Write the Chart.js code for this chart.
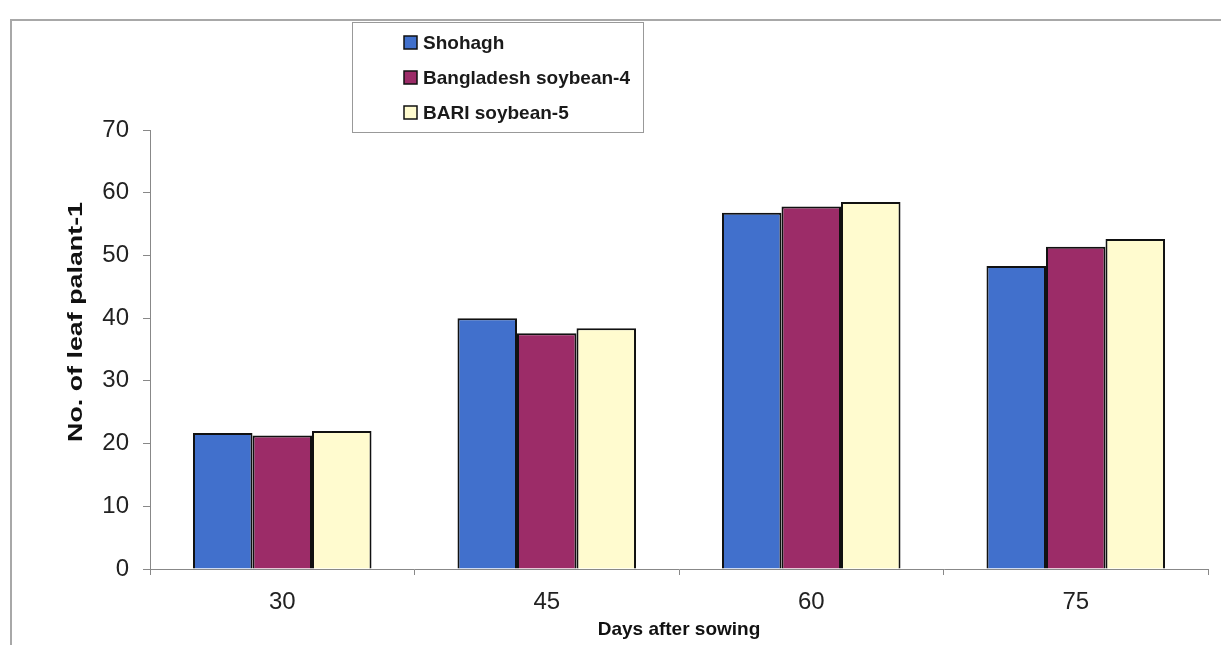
<!DOCTYPE html>
<html>
<head>
<meta charset="utf-8">
<script src="https://cdn.jsdelivr.net/npm/chart.js@4"></script>
<style>
html,body{margin:0;padding:0;background:#fff;}
#wrap{width:1221px;height:645px;position:relative;}
</style>
</head>
<body>
<div id="wrap"><canvas id="c" width="1221" height="645"></canvas></div>
<script>
const categories = ["30", "45", "60", "75"];
const shohagh = [21.7, 40.0, 56.8, 48.3];
const bangladesh4 = [21.3, 37.6, 57.8, 51.4];
const bari5 = [22.0, 38.4, 58.5, 52.6];
const seriesNames = ["Shohagh", "Bangladesh soybean-4", "BARI soybean-5"];
const yTicks = [0, 10, 20, 30, 40, 50, 60, 70];
const yTitle = "No. of leaf palant-1";
const xTitle = "Days after sowing";

const FONT = '"Liberation Sans", Arial, sans-serif';

const framePlugin = {
  id: 'frame',
  beforeDraw(chart) {
    const ctx = chart.ctx;
    ctx.save();
    ctx.fillStyle = '#fff';
    ctx.fillRect(0, 0, chart.width, chart.height);
    ctx.strokeStyle = '#a8a8a8';
    ctx.lineWidth = 2;
    ctx.beginPath();
    ctx.moveTo(11, 645);
    ctx.lineTo(11, 20);
    ctx.lineTo(1221, 20);
    ctx.stroke();
    ctx.restore();
  },
  afterDraw(chart) {
    const ctx = chart.ctx;
    ctx.save();
    // legend box
    ctx.strokeStyle = '#999';
    ctx.lineWidth = 1;
    ctx.strokeRect(352.5, 22.5, 291, 110);
    const ys = [43, 78, 113];
    ctx.font = 'bold 19px ' + FONT;
    ctx.textBaseline = 'middle';
    chart.data.datasets.forEach((ds, i) => {
      ctx.fillStyle = ds.backgroundColor;
      ctx.fillRect(404, ys[i] - 7, 13, 13);
      ctx.strokeStyle = '#111';
      ctx.lineWidth = 1.5;
      ctx.strokeRect(404, ys[i] - 7, 13, 13);
      ctx.fillStyle = '#1a1a1a';
      ctx.fillText(ds.label, 423, ys[i] + 1);
    });
    // y axis title (slightly stretched along its length as in the reference)
    ctx.font = 'bold 20px ' + FONT;
    const w = ctx.measureText(yTitle).width;
    ctx.translate(76, 322);
    ctx.rotate(-Math.PI / 2);
    ctx.scale(240 / w, 1);
    ctx.textAlign = 'center';
    ctx.textBaseline = 'middle';
    ctx.fillStyle = '#111';
    ctx.fillText(yTitle, 0, 0);
    ctx.restore();
  }
};

new Chart(document.getElementById('c'), {
  type: 'bar',
  data: {
    labels: categories,
    datasets: [
      { label: seriesNames[0], data: shohagh, backgroundColor: '#4170cc', borderColor: '#111', borderWidth: 2 },
      { label: seriesNames[1], data: bangladesh4, backgroundColor: '#9c2c68', borderColor: '#111', borderWidth: 2 },
      { label: seriesNames[2], data: bari5, backgroundColor: '#fffbcf', borderColor: '#111', borderWidth: 2 }
    ]
  },
  options: {
    responsive: false,
    animation: false,
    devicePixelRatio: 1,
    layout: { padding: { left: 65, right: 13, top: 130, bottom: 0 } },
    datasets: { bar: { categoryPercentage: 0.675, barPercentage: 1.0 } },
    plugins: { legend: { display: false }, tooltip: { enabled: false } },
    scales: {
      x: {
        grid: { display: true, drawOnChartArea: false, offset: true, color: '#888', tickLength: 6 },
        border: { display: true, color: '#888', width: 1 },
        ticks: { color: '#222', font: { size: 24, family: FONT }, padding: 13 },
        title: { display: true, text: xTitle, color: '#111', font: { size: 19, weight: 'bold', family: FONT }, padding: { top: 0, bottom: 4 } },
        afterFit(scale) { scale.height = 76; }
      },
      y: {
        min: 0, max: 70,
        afterBuildTicks(scale) { scale.ticks = yTicks.map(v => ({ value: v })); },
        grid: { display: true, drawOnChartArea: false, color: '#888', tickLength: 7 },
        border: { display: true, color: '#888', width: 1 },
        ticks: { color: '#222', font: { size: 24, family: FONT }, padding: 14 },
        afterFit(scale) { scale.width = 85; }
      }
    }
  },
  plugins: [framePlugin]
});
</script>
</body>
</html>
